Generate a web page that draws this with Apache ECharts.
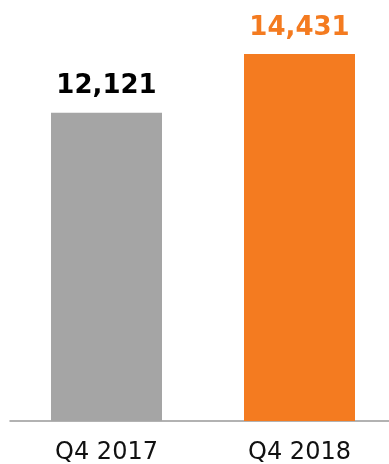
<!DOCTYPE html>
<html><head><meta charset="utf-8">
<script src="https://cdn.jsdelivr.net/npm/echarts@6/dist/echarts.min.js"></script>
<style>html,body{margin:0;padding:0;background:#fff}#c{width:389px;height:464px}</style>
</head><body><div id="c"></div>
<script>
const categories = ["Q4 2017", "Q4 2018"];
const values = [12121, 14431];
const barColors = ["#A5A5A5", "#F47B20"];
const labelColors = ["#000000", "#F47B20"];

const chart = echarts.init(document.getElementById('c'));
chart.setOption({
  animation: false,
  grid: { left: 10, right: -7, top: 14, bottom: 43, outerBoundsMode: 'none', containLabel: false },
  xAxis: {
    type: 'category', data: categories,
    axisLine: { lineStyle: { color: '#999999', width: 1.5 } },
    axisTick: { show: false },
    axisLabel: { color: '#111', fontFamily: 'DejaVu Sans', fontSize: 24, margin: 20 }
  },
  yAxis: { type: 'value', min: 0, max: 16000, show: false, splitLine: { show: false } },
  series: [{
    type: 'bar', barWidth: 111,
    data: values.map((v, i) => ({
      value: v,
      itemStyle: { color: barColors[i] },
      label: { color: labelColors[i] }
    })),
    label: {
      show: true, position: 'top', distance: 13,
      fontFamily: 'DejaVu Sans', fontWeight: 'bold', fontSize: 26,
      formatter: p => p.value.toLocaleString('en-US')
    }
  }]
});
</script></body></html>
